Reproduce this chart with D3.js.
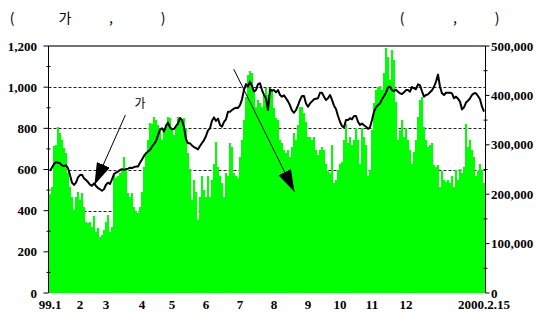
<!DOCTYPE html>
<html>
<head>
<meta charset="utf-8">
<script src="https://d3js.org/d3.v7.min.js"></script>
<style>
  body { margin: 0; background: #fff; }
  .num { font-family: "Liberation Serif", "Times New Roman", serif; font-weight: bold; font-size: 13px; }
  .kr { font-family: "Noto Sans CJK KR", sans-serif; }
</style>
</head>
<body>
<script>
// daily trading volume (thousand shares, right axis)
var volK = [
  200,215,298,299,337,323,310,293,283,242,
  215,195,168,195,205,188,202,175,144,141,
  144,134,155,124,131,114,117,128,144,158,
  124,134,242,232,236,242,246,276,249,202,
  195,202,175,165,161,175,205,256,283,310,
  345,343,356,350,340,335,310,330,343,356,
  354,333,320,340,356,356,350,354,333,283,
  252,188,229,205,148,195,236,209,195,236,
  195,229,262,306,256,236,222,195,242,236,
  303,296,242,236,232,276,310,350,397,441,
  450,445,404,377,391,384,377,401,414,401,
  414,408,374,354,350,310,303,289,283,289,
  276,296,323,310,340,377,377,364,347,316,
  316,310,316,289,279,289,296,289,262,246,
  242,300,222,229,249,262,266,310,343,303,
  316,300,310,335,310,262,333,316,300,236,
  249,330,384,411,418,419,411,445,495,478,
  431,492,472,387,310,330,350,316,333,310,
  289,262,286,310,357,391,396,337,310,296,
  300,303,259,256,259,215,246,229,225,229,
  222,236,215,249,229,252,242,256,343,296,
  310,289,276,236,246,262,249,222
];

// stock index (left axis)
var index = [
  594,610,627,636,633,630,620,617,620,606,
  573,536,525,536,562,573,575,557,549,539,
  526,521,533,520,510,504,497,504,526,536,
  530,552,578,585,590,598,601,598,602,604,
  609,607,612,614,614,633,649,666,679,687,
  695,711,724,738,766,795,800,785,811,828,
  805,795,797,811,824,850,841,805,747,727,
  727,717,709,704,698,714,729,743,763,790,
  800,837,853,836,847,816,808,831,844,881,
  881,889,896,900,899,913,941,986,1015,1002,
  1027,1006,978,986,1015,1019,986,962,946,889,
  990,983,986,975,986,962,954,960,946,931,
  912,886,876,889,912,938,957,957,921,905,
  921,931,941,944,946,973,973,954,938,946,
  962,938,910,894,860,832,811,805,841,840,
  849,844,860,860,832,816,823,815,808,797,
  805,840,881,902,913,921,941,957,973,999,
  1002,986,981,988,978,970,967,975,986,986,
  978,1001,994,990,1014,1009,980,954,962,965,
  975,985,1002,1027,1061,1002,970,962,973,973,
  973,970,946,954,944,930,892,902,925,934,
  946,962,970,970,957,941,905,881
];

var monthLabels = ["99.1","2","3","4","5","6","7","8","9","10","11","12","2000.2.15"];
var monthAt     = [0, 15, 28, 46, 61, 78, 95, 112, 129, 145, 161, 178, 217];

var leftTicks  = [0, 200, 400, 600, 800, 1000, 1200];
var rightTicks = [0, 100, 200, 300, 400, 500];   // thousands
var gridVals   = [200, 400, 600, 800, 1000];

var W = 536, H = 312,
    pLeft = 48.5, pRight = 485.5, pTop = 46, pBottom = 293;

var svg = d3.select("body").append("svg")
  .attr("width", W).attr("height", H);

var n = volK.length;
var x = d3.scaleBand().domain(d3.range(n)).range([49, 485]).padding(0);
var bw = x.bandwidth();
var xi = d3.scaleLinear().domain([0, n - 1]).range([x(0) + bw / 2, x(n - 1) + bw / 2]);
var yL = d3.scaleLinear().domain([0, 1200]).range([pBottom, pTop]);
var yR = d3.scaleLinear().domain([0, 500]).range([pBottom, pTop]);

// title fragments
var title = svg.append("g").attr("class", "kr").style("font-size", "14px");
[["(", 12], ["가", 65], [",", 111], [")", 163], ["(", 402], [",", 455], [")", 497]].forEach(function(t) {
  title.append("text").attr("x", t[1]).attr("y", 23).attr("text-anchor", "middle").text(t[0]);
});

// dashed grid
svg.append("g").selectAll("line").data(gridVals).enter().append("line")
  .attr("x1", pLeft).attr("x2", pRight)
  .attr("y1", function(d) { return Math.round(yL(d)) + 0.5; })
  .attr("y2", function(d) { return Math.round(yL(d)) + 0.5; })
  .attr("stroke", "#222").attr("stroke-dasharray", "3,2");

// volume bars
svg.append("g").selectAll("rect").data(volK).enter().append("rect")
  .attr("x", function(d, i) { return x(i); })
  .attr("width", bw)
  .attr("y", function(d) { return yR(d); })
  .attr("height", function(d) { return pBottom - yR(d); })
  .attr("fill", "#00ff00")
  .attr("shape-rendering", "crispEdges");

// index line
svg.append("path").datum(index)
  .attr("fill", "none").attr("stroke", "#000").attr("stroke-width", 2)
  .attr("stroke-linejoin", "round")
  .attr("d", d3.line().x(function(d, i) { return xi(i); }).y(function(d) { return yL(d); }));

// frame
svg.append("line").attr("x1", pLeft).attr("x2", pRight).attr("y1", pTop).attr("y2", pTop)
  .attr("stroke", "#444").attr("stroke-width", 1.3);
svg.append("line").attr("x1", pLeft).attr("x2", pLeft).attr("y1", pTop).attr("y2", pBottom)
  .attr("stroke", "#000");
svg.append("line").attr("x1", pRight).attr("x2", pRight).attr("y1", pTop).attr("y2", pBottom)
  .attr("stroke", "#000");

// left axis ticks and labels
var gl = svg.append("g");
gl.selectAll("line.maj").data(leftTicks).enter().append("line")
  .attr("x1", pLeft - 5).attr("x2", pLeft)
  .attr("y1", function(d) { return yL(d); }).attr("y2", function(d) { return yL(d); })
  .attr("stroke", "#000");
gl.selectAll("line.min").data(d3.range(100, 1200, 200)).enter().append("line")
  .attr("x1", pLeft - 2).attr("x2", pLeft + 2)
  .attr("y1", function(d) { return yL(d); }).attr("y2", function(d) { return yL(d); })
  .attr("stroke", "#000");
gl.selectAll("text").data(leftTicks).enter().append("text")
  .attr("class", "num").attr("text-anchor", "end")
  .attr("x", 37).attr("y", function(d) { return yL(d); }).attr("dy", "0.35em")
  .text(d3.format(","));

// right axis ticks and labels
var gr = svg.append("g");
gr.selectAll("line.maj").data(rightTicks).enter().append("line")
  .attr("x1", pRight).attr("x2", pRight + 4)
  .attr("y1", function(d) { return yR(d); }).attr("y2", function(d) { return yR(d); })
  .attr("stroke", "#000");
gr.selectAll("line.min").data(d3.range(50, 500, 100)).enter().append("line")
  .attr("x1", pRight - 2).attr("x2", pRight + 2)
  .attr("y1", function(d) { return yR(d); }).attr("y2", function(d) { return yR(d); })
  .attr("stroke", "#000");
gr.selectAll("text").data(rightTicks).enter().append("text")
  .attr("class", "num").attr("text-anchor", "start")
  .attr("x", 491).attr("y", function(d) { return yR(d); }).attr("dy", "0.35em")
  .text(function(d) { return d3.format(",")(d * 1000); });

// month labels
svg.append("g").selectAll("text").data(monthLabels).enter().append("text")
  .attr("class", "num").attr("text-anchor", "middle")
  .attr("x", function(d, i) { return xi(monthAt[i]); }).attr("y", 309)
  .text(function(d) { return d; });

// annotations
var defs = svg.append("defs");
defs.append("marker").attr("id", "head")
  .attr("markerUnits", "userSpaceOnUse")
  .attr("viewBox", "0 -7 22 14").attr("refX", 22).attr("refY", 0)
  .attr("markerWidth", 22).attr("markerHeight", 14).attr("orient", "auto")
  .append("path").attr("d", "M0,-7L22,0L0,7Z").attr("fill", "#000");

var arrows = [
  { from: [37.7, 865], to: [22.2, 525] },
  { from: [91.9, 1087], to: [122.2, 492] }
];
svg.append("g").selectAll("line").data(arrows).enter().append("line")
  .attr("x1", function(d) { return xi(d.from[0]); })
  .attr("y1", function(d) { return yL(d.from[1]); })
  .attr("x2", function(d) { return xi(d.to[0]); })
  .attr("y2", function(d) { return yL(d.to[1]); })
  .attr("stroke", "#000").attr("stroke-width", 1)
  .attr("marker-end", "url(#head)");

svg.append("text").attr("class", "kr").style("font-size", "12px")
  .attr("x", xi(45)).attr("y", yL(897)).attr("text-anchor", "middle").text("가");
</script>
</body>
</html>
